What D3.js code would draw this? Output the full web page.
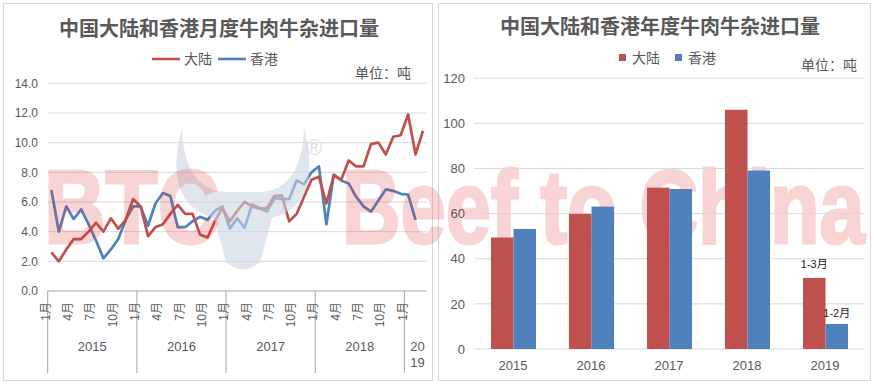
<!DOCTYPE html>
<html><head><meta charset="utf-8">
<script src="https://cdn.jsdelivr.net/npm/d3@7"></script>
<style>
html,body{margin:0;padding:0;background:#fff;}
svg{display:block;font-family:"Liberation Sans",Arial,"Noto Sans CJK SC",sans-serif;}
</style></head>
<body>
<svg id="c" width="874" height="386"></svg>
<script>
// ---- data ----
const years = ["2015","2016","2017","2018","2019"];
const monthNames = ["1月","2月","3月","4月","5月","6月","7月","8月","9月","10月","11月","12月"];
const monthsPerYear = [12,12,12,12,3];
const mainlandMonthly = [
  2.6,2.0,2.8,3.5,3.5,4.0,4.6,4.0,4.9,4.2,4.8,6.2,
  5.7,3.7,4.3,4.5,5.2,5.8,5.2,5.2,3.8,3.6,4.7,5.6,
  4.7,5.4,6.0,5.7,5.55,5.6,6.4,6.45,4.7,5.2,6.35,7.5,
  7.7,5.9,7.8,7.5,8.8,8.4,8.4,9.9,10.0,9.2,10.4,10.5,
  11.9,9.2,10.8];
const hongkongMonthly = [
  6.8,4.0,5.7,4.85,5.5,4.5,3.4,2.2,2.8,3.5,4.8,5.7,
  5.7,4.4,5.9,6.6,6.4,4.3,4.3,4.7,5.0,4.8,5.4,5.7,
  4.2,4.9,4.25,5.85,5.6,5.35,6.25,6.2,6.2,7.45,7.2,8.0,
  8.4,4.5,7.85,7.45,7.25,6.35,5.7,5.35,6.1,6.85,6.75,6.55,
  6.5,4.8];
const mainlandAnnual = [49.4,59.9,71.5,106.0,31.5];
const hongkongAnnual = [53.2,63.1,70.9,79.1,11.1];
const seriesNames = ["大陆","香港"];
const leftTicks = [0,2,4,6,8,10,12,14];
const rightTicks = [0,20,40,60,80,100,120];
const notes2019 = ["1-3月","1-2月"];
const titleMonthly = "中国大陆和香港月度牛肉牛杂进口量";
const titleAnnual = "中国大陆和香港年度牛肉牛杂进口量";
const unitLabel = "单位：吨";
const watermarkWords = ["BTC","Beef to China"];

// build month categories
const months = [];
years.forEach((y,yi)=>{ for(let m=0;m<monthsPerYear[yi];m++) months.push({year:y, m:m, label:monthNames[m], key:y+"-"+(m+1)}); });

const RED="#c0504d", BLUE="#4f81bd", TXT="#595959", GRID="#d9d9d9";
const svg = d3.select("#c");

// panels
svg.append("rect").attr("x",3.5).attr("y",3.5).attr("width",429).attr("height",377).attr("fill","#fff").attr("stroke","#d9d9d9");
svg.append("rect").attr("x",438.5).attr("y",3.5).attr("width",432).attr("height",377).attr("fill","#fff").attr("stroke","#d9d9d9");

// ===== LEFT =====
const L = svg.append("g");
const xL = d3.scaleBand().domain(months.map(d=>d.key)).range([47.7,426.7]).padding(0);
const yL = d3.scaleLinear().domain([0,14]).range([291,83.3]);

L.selectAll("line.g").data(leftTicks.filter(d=>d>0)).join("line")
  .attr("x1",47.7).attr("x2",426.7).attr("y1",d=>yL(d)).attr("y2",d=>yL(d))
  .attr("stroke",GRID).attr("stroke-width",1);
L.selectAll("text.yt").data(leftTicks).join("text")
  .attr("x",38).attr("y",d=>yL(d)).attr("dy","0.36em").attr("text-anchor","end")
  .attr("font-size",12).attr("fill",TXT).text(d=>d3.format(".1f")(d));

// watermark
const wm = svg.append("g").attr("pointer-events","none");
wm.append("path")
  .attr("d","M182,128 Q162,204 214,218 L226,262 Q243,277 260,262 L272,218 Q324,204 304,128 Q302,188 262,192 L224,192 Q184,188 182,128 Z")
  .attr("fill","#c9d5e2").attr("opacity",0.6);
wm.append("text").attr("x",306).attr("y",155).attr("font-size",22).attr("fill","#dcdcdc").text("®");
wm.append("text").attr("transform","translate(44,243) scale(0.82,1)").attr("font-size",104).attr("font-weight","bold")
  .attr("fill","#e03030").attr("stroke","#e03030").attr("stroke-width",3).attr("opacity",0.2).text(watermarkWords[0]);
wm.append("text").attr("transform","translate(342,243) scale(0.78,1)").attr("font-size",104).attr("font-weight","bold")
  .attr("fill","#e03030").attr("stroke","#e03030").attr("stroke-width",3).attr("opacity",0.2).text(watermarkWords[1]);

// axis line
L.append("line").attr("x1",47.7).attr("x2",426.7).attr("y1",291).attr("y2",291).attr("stroke","#a6a6a6");
// year separators
let start=0; const sepIdx=[0];
monthsPerYear.forEach(n=>{start+=n; sepIdx.push(start);});
const sepX = sepIdx.slice(0,-1).map(i=>xL(months[i].key));
L.selectAll("line.sep").data(sepX).join("line")
  .attr("x1",d=>d).attr("x2",d=>d).attr("y1",291).attr("y2",373).attr("stroke","#a6a6a6");
// month labels
L.selectAll("text.mt").data(months.filter(d=>d.m%3===0)).join("text")
  .attr("transform",d=>`translate(${xL(d.key)-2},302) rotate(-90)`)
  .attr("text-anchor","end").attr("dy","0.35em").attr("font-size",12).attr("fill",TXT).text(d=>d.label);
// year labels
years.forEach((y,yi)=>{
  const a = xL(months[sepIdx[yi]].key), b = yi<years.length-1 ? xL(months[sepIdx[yi+1]].key) : 426.7;
  const cx=(a+b)/2;
  if (yi<years.length-1){
    L.append("text").attr("x",cx).attr("y",351).attr("text-anchor","middle").attr("font-size",13).attr("fill",TXT).text(y);
  } else {
    const t=L.append("text").attr("text-anchor","middle").attr("font-size",13).attr("fill",TXT);
    t.append("tspan").attr("x",cx+2).attr("y",351).text(y.slice(0,2));
    t.append("tspan").attr("x",cx+2).attr("y",367).text(y.slice(2));
  }
});
// lines
const line = d3.line().x((d,i)=>xL(months[i].key)+xL.bandwidth()/2).y(d=>yL(d));
L.append("path").datum(hongkongMonthly).attr("d",line).attr("fill","none").attr("stroke",BLUE).attr("stroke-width",2.7).attr("stroke-linejoin","round");
L.append("path").datum(mainlandMonthly).attr("d",line).attr("fill","none").attr("stroke",RED).attr("stroke-width",2.7).attr("stroke-linejoin","round");

// title, legend
L.append("text").attr("x",219).attr("y",36).attr("text-anchor","middle").attr("font-size",20).attr("font-weight","bold").attr("fill",TXT).text(titleMonthly);
[[152,RED,seriesNames[0]],[218,BLUE,seriesNames[1]]].forEach(([x,c,t])=>{
  L.append("line").attr("x1",x).attr("x2",x+28).attr("y1",59).attr("y2",59).attr("stroke",c).attr("stroke-width",2.6);
  L.append("text").attr("x",x+32).attr("y",64).attr("font-size",14).attr("fill",TXT).text(t);
});
L.append("text").attr("x",355).attr("y",78).attr("font-size",14).attr("fill",TXT).text(unitLabel);

// ===== RIGHT =====
const R = svg.append("g");
const xR = d3.scaleBand().domain(years).range([474,864]).padding(0);
const xSub = d3.scaleBand().domain(seriesNames).range([xR.bandwidth()*0.218, xR.bandwidth()*0.795]).padding(0);
const yR = d3.scaleLinear().domain([0,120]).range([349,78.2]);
R.selectAll("line.g").data(rightTicks).join("line")
  .attr("x1",474).attr("x2",864).attr("y1",d=>yR(d)).attr("y2",d=>yR(d)).attr("stroke",GRID);
R.selectAll("text.yt").data(rightTicks).join("text")
  .attr("x",465).attr("y",d=>yR(d)).attr("dy","0.36em").attr("text-anchor","end")
  .attr("font-size",13).attr("fill",TXT).text(d=>d);
const barData = [];
years.forEach((y,i)=>{ barData.push({y, s:seriesNames[0], v:mainlandAnnual[i], c:RED}); barData.push({y, s:seriesNames[1], v:hongkongAnnual[i], c:BLUE}); });
R.selectAll("rect.bar").data(barData).join("rect")
  .attr("x",d=>xR(d.y)+xSub(d.s)).attr("width",xSub.bandwidth())
  .attr("y",d=>yR(d.v)).attr("height",d=>yR(0)-yR(d.v)).attr("fill",d=>d.c);
R.selectAll("text.xt").data(years).join("text")
  .attr("x",d=>xR(d)+xR.bandwidth()/2).attr("y",370).attr("text-anchor","middle")
  .attr("font-size",13).attr("fill",TXT).text(d=>d);
// 2019 notes
const last = years[years.length-1];
R.append("text").attr("x",xR(last)+xSub(seriesNames[0])+xSub.bandwidth()/2).attr("y",yR(mainlandAnnual[4])-10)
  .attr("text-anchor","middle").attr("font-size",11).attr("fill","#222").text(notes2019[0]);
R.append("text").attr("x",xR(last)+xSub(seriesNames[1])+xSub.bandwidth()/2).attr("y",yR(hongkongAnnual[4])-7)
  .attr("text-anchor","middle").attr("font-size",11).attr("fill","#222").text(notes2019[1]);
// title, legend
R.append("text").attr("x",660).attr("y",34).attr("text-anchor","middle").attr("font-size",20).attr("font-weight","bold").attr("fill",TXT).text(titleAnnual);
[[619,RED,seriesNames[0]],[675,BLUE,seriesNames[1]]].forEach(([x,c,t])=>{
  R.append("rect").attr("x",x).attr("y",54).attr("width",7).attr("height",7).attr("fill",c);
  R.append("text").attr("x",x+13).attr("y",63).attr("font-size",14).attr("fill",TXT).text(t);
});
R.append("text").attr("x",801).attr("y",70).attr("font-size",14).attr("fill",TXT).text(unitLabel);
</script>
</body></html>
